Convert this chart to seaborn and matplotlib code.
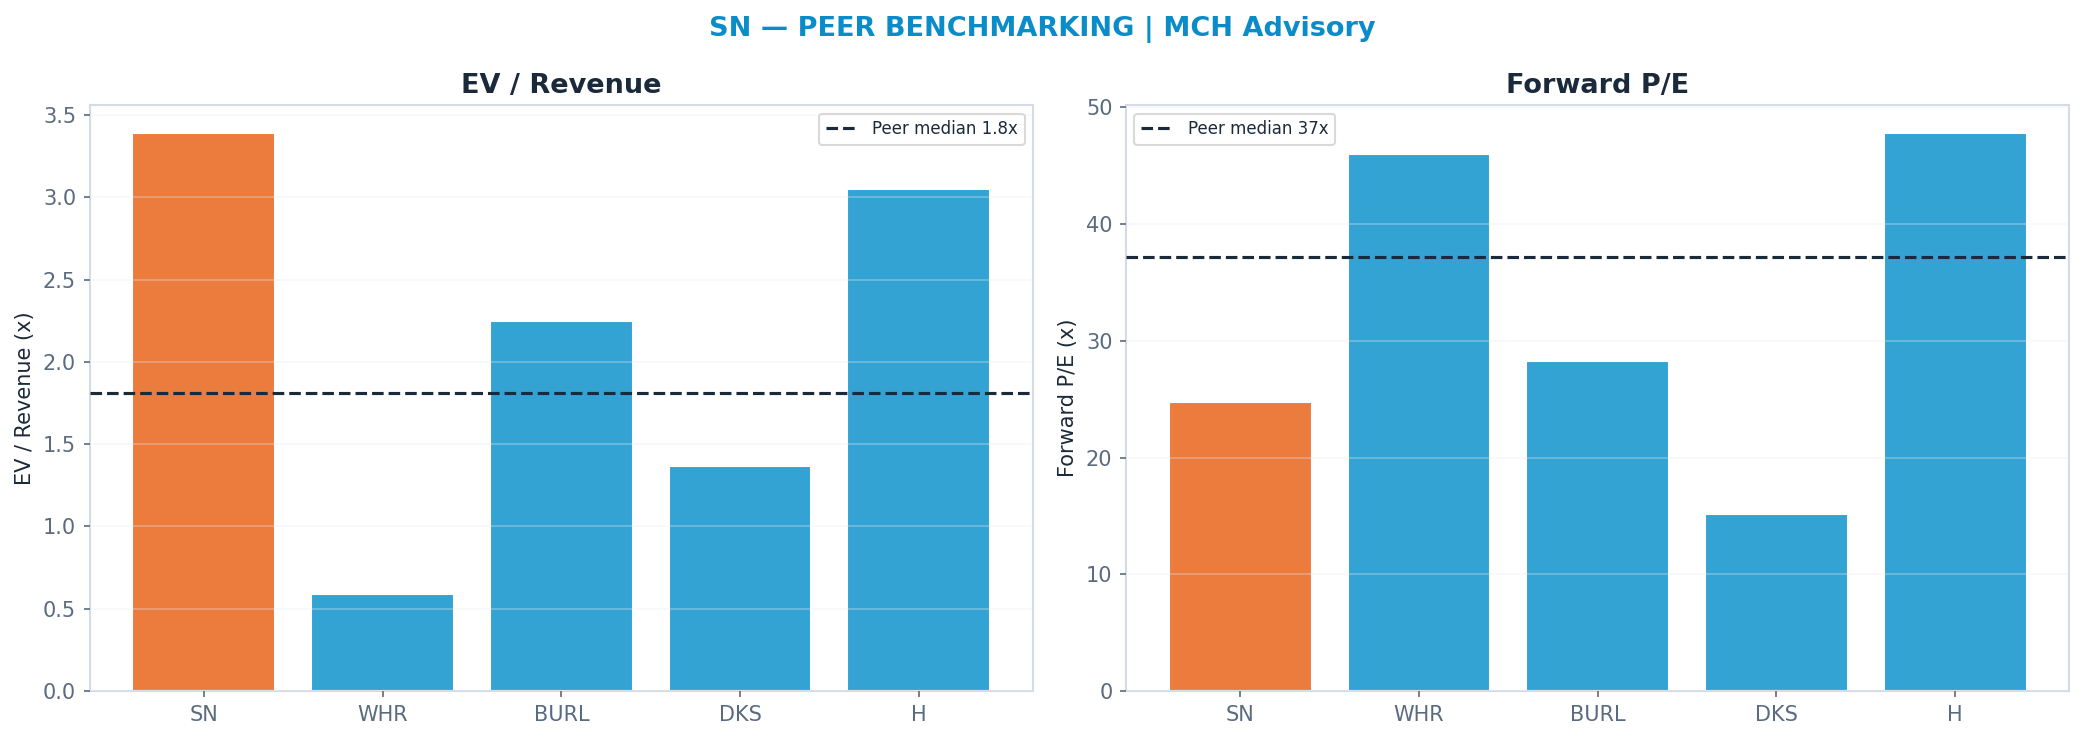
import matplotlib
matplotlib.use("Agg")
import matplotlib.pyplot as plt
import seaborn as sns
import pandas as pd

tickers = ["SN", "WHR", "BURL", "DKS", "H"]
ev_revenue = [3.39, 0.59, 2.25, 1.37, 3.05]
fwd_pe = [24.8, 46.0, 28.3, 15.2, 47.8]
ev_median = 1.81
pe_median = 37.2
ev_median_label = "Peer median 1.8x"
pe_median_label = "Peer median 37x"

ORANGE = "#EC7B3E"
BLUE = "#33A3D4"
DARK = "#1B2A3A"
TICK = "#5A6B80"
SPINE = "#D3DCE6"
palette = {t: (ORANGE if t == "SN" else BLUE) for t in tickers}

sns.set_theme(style="white")
plt.rcParams['font.family'] = ['DejaVu Sans']

df = pd.DataFrame({"ticker": tickers, "ev": ev_revenue, "pe": fwd_pe})

fig, axes = plt.subplots(1, 2, figsize=(2084/150, 741/150), dpi=150)
fig.subplots_adjust(left=0.043, right=0.993, bottom=0.0675, top=0.858, wspace=0.0985)

specs = [
    (axes[0], "ev", "EV / Revenue", "EV / Revenue (x)", ev_median, ev_median_label, "upper right"),
    (axes[1], "pe", "Forward P/E", "Forward P/E (x)", pe_median, pe_median_label, "upper left"),
]
n = len(tickers)
for ax, col, title, ylabel, med, mlabel, loc in specs:
    sns.barplot(data=df, x="ticker", y=col, hue="ticker", palette=palette,
                dodge=False, legend=False, ax=ax, width=0.8, saturation=1)
    ax.axhline(med, color=DARK, linestyle="--", linewidth=1.5, label=mlabel, zorder=5)
    pad = (n - 1 + 0.8) * 0.05
    ax.set_xlim(-0.4 - pad, n - 1 + 0.4 + pad)
    ax.set_title(title, fontsize=13, fontweight="bold", color=DARK, pad=6)
    ax.set_ylabel(ylabel, fontsize=10, color=DARK)
    ax.set_xlabel("")
    ax.grid(axis="y", color="#E8ECF1", linewidth=0.8, alpha=0.35)
    ax.set_axisbelow(False)
    for s in ax.spines.values():
        s.set_color(SPINE)
        s.set_linewidth(1.0)
    ax.tick_params(axis="both", colors=TICK, labelsize=10, length=3, width=0.8, left=True, bottom=True)
    for lbl in ax.get_xticklabels() + ax.get_yticklabels():
        lbl.set_color(TICK)
    leg = ax.legend(loc=loc, fontsize=8, frameon=True, labelcolor=DARK)
    leg.get_frame().set_edgecolor("#D0D0D0")

fig.suptitle("SN — PEER BENCHMARKING | MCH Advisory", fontsize=13, fontweight="bold",
             color="#0A8CC9", y=0.978)

fig.savefig("out.png", dpi=150)
